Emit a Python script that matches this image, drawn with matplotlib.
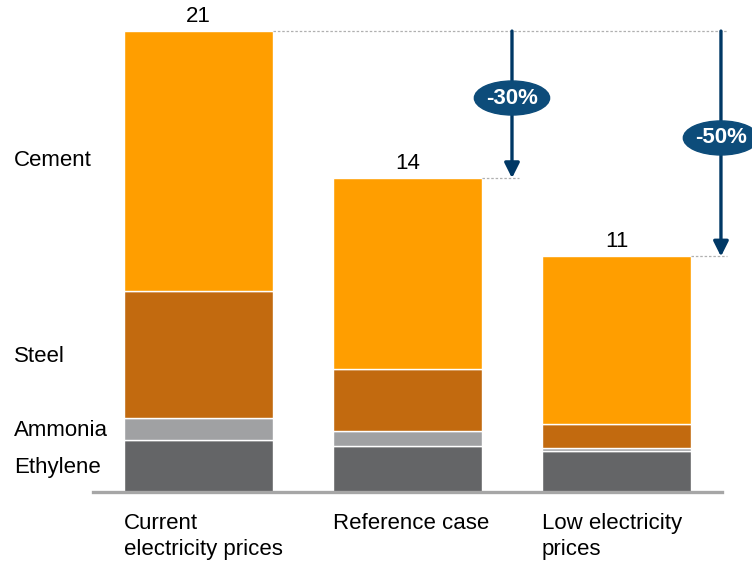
import matplotlib.pyplot as plt
from matplotlib.patches import Ellipse

plt.rcParams['font.family'] = ['Liberation Sans', 'DejaVu Sans']

# Data
scenarios = ['Current\nelectricity prices', 'Reference case', 'Low electricity\nprices']
segments = ['Ethylene', 'Ammonia', 'Steel', 'Cement']
ethylene = [2.37, 2.10, 1.87]
ammonia = [1.00, 0.68, 0.12]
steel = [5.79, 2.82, 1.09]
cement = [11.84, 8.70, 7.65]
totals_lbl = ['21', '14', '11']
change_lbl = ['-30%', '-50%']

colors = ['#646567', '#A0A1A3', '#C26A0F', '#FF9E00']

fig = plt.figure(figsize=(7.52, 5.64), dpi=100)
ax = fig.add_axes([93 / 752, 72 / 564, 629 / 752, 482 / 564])
ax.set_xlim(-0.505, 2.505)
ax.set_ylim(0, 21.96)
ax.axis('off')

x = [0, 1, 2]
w = 0.713
bottom = [0, 0, 0]
for vals, c in zip([ethylene, ammonia, steel, cement], colors):
    ax.bar(x, vals, width=w, bottom=bottom, color=c, edgecolor='white', linewidth=1)
    bottom = [b + v for b, v in zip(bottom, vals)]
totals = bottom

# baseline
ax.axhline(0, color='#A6A6A6', lw=2.4, clip_on=False)

# value labels
for xi, t, lbl in zip(x, totals, totals_lbl):
    ax.text(xi, t + 0.2, lbl, ha='center', va='bottom', fontsize=16)

# dotted guides
ax.plot([w / 2, 2.53], [totals[0]] * 2, ls=(0, (2, 1.5)), color='#B0B0B0', lw=0.9, clip_on=False)
ax.plot([1 + w / 2, 1.533], [totals[1]] * 2, ls=(0, (2, 1.5)), color='#B0B0B0', lw=0.9, clip_on=False)
ax.plot([2 + w / 2, 2.53], [totals[2]] * 2, ls=(0, (2, 1.5)), color='#B0B0B0', lw=0.9, clip_on=False)

# arrows with ellipse labels
navy = '#003865'
for ax_x, target, lbl, ey in [(1.5, totals[1], change_lbl[0], 17.95), (2.5, totals[2], change_lbl[1], 16.13)]:
    ax.annotate('', xy=(ax_x, target), xytext=(ax_x, totals[0]),
                arrowprops=dict(arrowstyle='-|>,head_width=0.45,head_length=0.9',
                                color=navy, lw=2.4, shrinkA=0, shrinkB=0),
                annotation_clip=False)
    ax.add_patch(Ellipse((ax_x, ey), 0.36, 1.55, color='#0D4C7A', clip_on=False, zorder=5))
    ax.text(ax_x, ey, lbl, ha='center', va='center', color='white', fontsize=16,
            fontweight='bold', zorder=6, clip_on=False)

# category labels
for xi, lbl in zip(x, scenarios):
    ax.text(xi - w / 2, -0.95, lbl, ha='left', va='top', fontsize=16, linespacing=1.35)

# segment labels on the left
for lbl, ypix in [('Cement', 161), ('Steel', 356), ('Ammonia', 431), ('Ethylene', 468)]:
    fig.text(14 / 752, 1 - ypix / 564, lbl, ha='left', va='center', fontsize=16)

fig.savefig('out.png', dpi=100)
